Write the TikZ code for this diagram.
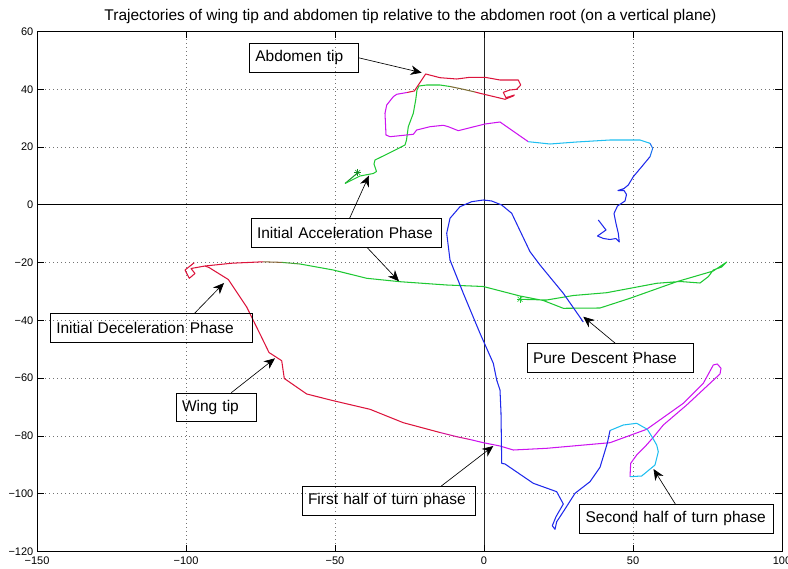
\documentclass[tikz,border=0pt]{standalone}
\usepackage{fontspec}
\setmainfont{Liberation Sans}
\usetikzlibrary{arrows.meta}

\definecolor{wred}{RGB}{220,20,60}
\definecolor{wgreen}{RGB}{30,200,50}
\definecolor{wmag}{RGB}{205,20,240}
\definecolor{wcyan}{RGB}{30,190,240}
\definecolor{wblue}{RGB}{30,40,235}

\tikzset{
  trj/.style={line width=1.05pt, line join=round},
  grd/.style={black!55, line width=0.6pt, dash pattern=on 0.8pt off 3.2pt},
  axl/.style={black, line width=0.8pt},
  tkl/.style={font=\fontsize{11}{13}\selectfont, inner sep=0pt},
  lbl/.style={draw, line width=0.6pt, anchor=north west, inner xsep=6pt, inner ysep=0pt,
    minimum height=28.5pt, align=left, font=\fontsize{15.5}{18}\selectfont},
  arr/.style={line width=0.65pt, -{Stealth[length=11pt, width=9.5pt, inset=3.5pt]}}
}

\begin{document}
\begin{tikzpicture}[x=1pt, y=-1pt]
  \useasboundingbox (0,0) rectangle (788,569);
  \node[anchor=base, font=\fontsize{15.5}{18}\selectfont] (title) at (410.5,21)
    {Trajectories of wing tip and abdomen tip relative to the abdomen root (on a vertical plane)};

  % grid
  \foreach \v in {-100,-50,50} {
    \pgfmathsetmacro{\px}{484+2.98*\v}
    \draw[grd] (\px,31.5) -- (\px,551.5);
  }
  \foreach \v in {40,20,-20,-40,-60,-80,-100} {
    \pgfmathsetmacro{\py}{204.8-2.8889*\v}
    \draw[grd] (37,\py) -- (782,\py);
  }
  \draw[black!85, line width=0.7pt] (484,31.5) -- (484,551.5);
  \draw[axl] (37,204.8) -- (782,204.8);

  % axes, ticks, tick labels
  \draw[axl] (37,31.5) rectangle (782,551.5);
  \foreach \v/\t in {-150/−150,-100/−100,-50/−50,0/0,50/50,100/100} {
    \pgfmathsetmacro{\px}{484+2.98*\v}
    \draw[axl] (\px,551.5) -- ++(0,-7);
    \draw[axl] (\px,31.5) -- ++(0,7);
    \node[tkl, anchor=base] (xl\v) at (\px,565) {\t};
  }
  \foreach \v/\t in {60/60,40/40,20/20,0/0,-20/−20,-40/−40,-60/−60,-80/−80,-100/−100,-120/−120} {
    \pgfmathsetmacro{\py}{204.8-2.8889*\v}
    \draw[axl] (37,\py) -- ++(7,0);
    \draw[axl] (782,\py) -- ++(-7,0);
    \node[tkl, anchor=east] (yl\v) at (33.5,\py) {\t};
  }

  % wing tip
  \draw[trj, wred] (194.3,262.7) -- (185,270) -- (189.3,278.3) -- (195,273.5) -- (191,268.5) -- (205,266) -- (232,263.2) -- (263,261.8);
  \draw[trj, wred!55!wgreen] (263,261.8) -- (282,262.4);
  \draw[trj, wred!20!wgreen] (282,262.4) -- (300,264);
  \draw[trj, wgreen] (300,264) -- (333.3,270) -- (366.7,278.3) -- (400,281.7) -- (446.7,285) -- (483.3,286.5) -- (520,296) -- (543.3,300.5) -- (563.3,308.3) -- (600,308) -- (630,298.3) -- (676.7,281.7) -- (713.3,271) -- (726.7,262) -- (721.7,267) -- (713.3,270) -- (708.3,276.7) -- (700,283) -- (680,281.5) -- (656.7,283.3) -- (606.7,292.7) -- (573.3,295.5) -- (546.7,300) -- (520,299.3);
  \draw[trj, wred] (205,266) -- (209,267.5) -- (228.3,279.5) -- (246.7,307) -- (260,334) -- (269,352.5) -- (281.7,360.7) -- (284.3,378.5) -- (306.7,394) -- (333.3,400.7) -- (370,409.3) -- (403.3,422.7) -- (440,432.5);
  \draw[trj, wred!50!wmag] (440,432.5) -- (456.7,436.7) -- (470,439.5);
  \draw[trj, wmag] (470,439.5) -- (483.3,442.7) -- (500,446) -- (513.3,450) -- (546.7,448.3) -- (610,442.7) -- (646.7,429.3) -- (683.3,403.3) -- (703.3,383.3) -- (713.3,365) -- (717.3,364) -- (721,368.3) -- (720,374) -- (710,383.3) -- (686.7,405) -- (663.3,425) -- (653.3,437.3) -- (645,446.7) -- (636.7,455) -- (630.7,463.3) -- (630,476.7);
  \draw[trj, wcyan] (630,476.7) -- (641.7,476) -- (655,465) -- (658.3,451.7) -- (656.7,445) -- (652.3,437.3) -- (647.3,429.3) -- (636.7,423.3) -- (623.3,425) -- (610,430.5);
  \draw[trj, wblue] (610,430.5) -- (607.3,443.3) -- (600,467.3) -- (590,481.7) -- (575,493.3) -- (563.3,511.7) -- (556.7,521.7) -- (555,529.3) -- (552.3,525.7) -- (556,516.7) -- (563.3,504) -- (556.7,491.7) -- (533.3,483.3) -- (505,464) -- (501.7,463.3) -- (501,413) -- (500,390) -- (496.7,380) -- (493.3,363.3) -- (480,333.3) -- (463.3,293.3) -- (450,260) -- (446.7,233.3) -- (450,218.3) -- (460,206.7) -- (471.7,201.7) -- (483.3,200) -- (491.7,201) -- (501.7,205) -- (511.7,213.3) -- (530,251.7) -- (540,265) -- (563.3,293.3) -- (583.3,322);

  % abdomen tip
  \draw[trj, wgreen!75!black] (345,183.5) -- (357.5,173);
  \draw[trj, wgreen] (345,183.5) -- (360,176) -- (373.3,173.5) -- (376.5,171.5) -- (374,164) -- (375,160) -- (386.7,154.3) -- (396.7,149.3) -- (405,145) -- (406.5,140) -- (408.3,126.7) -- (413.3,113.3) -- (415.7,100) -- (417,90) -- (419,86) -- (426.7,85) -- (440,85) -- (450,86.5);
  \draw[trj, wgreen!50!wred] (450,86.5) -- (463.3,89.3) -- (475,92);
  \draw[trj, wred] (475,92) -- (480,93.3) -- (496.7,97.3) -- (505,99.3) -- (513.3,96) -- (514.3,95) -- (506,97.7) -- (503.3,92.3) -- (510,90) -- (516.7,89.3) -- (520.7,85) -- (518.3,80) -- (500,80) -- (485,77.3) -- (470,77.3) -- (456.7,79) -- (440,77.7) -- (425.7,74) -- (414.3,91) -- (407,92.5);
  \draw[trj, wmag] (407,92.5) -- (396.7,94.3) -- (393.3,96.7) -- (386.7,105) -- (385,113.3) -- (386,135) -- (390,136.7) -- (413.3,134.3) -- (416.7,130) -- (430,126.7) -- (443.3,125.3) -- (448.3,126.7) -- (458.3,130.7) -- (471.7,127.3) -- (485,124) -- (500,122) -- (528.3,141.7);
  \draw[trj, wcyan] (528.3,141.7) -- (550,144) -- (576.7,142) -- (610,140) -- (640,140) -- (650,143.3);
  \draw[trj, wcyan!50!wblue] (650,143.3) -- (652.7,148.3) -- (650,156.7);
  \draw[trj, wblue] (650,156.7) -- (641.7,166.7) -- (633.3,176.7) -- (628.3,185) -- (624,188.5) -- (618,190.5) -- (624,190.5) -- (626.5,194.5) -- (625,201) -- (617.5,206) -- (614,213.5) -- (616,223.5) -- (618.3,233.3) -- (619.3,242) -- (616,238.5) -- (610,239.5) -- (603.5,238.5) -- (597.5,236) -- (606,230) -- (598.3,220);

  % start markers
  \coordinate (s1) at (357.7,172.5);
  \coordinate (s2) at (520,299.3);
  \foreach \a in {0,45,90,135} {
    \draw[wgreen!70!black, line width=0.6pt] (s1) ++(\a:3.5pt) -- ++(\a+180:7pt);
    \draw[wgreen, line width=0.6pt] (s2) ++(\a:3.5pt) -- ++(\a+180:7pt);
  }

  % annotations
  \node[lbl, text width=97.3pt] (abd) at (249,43.3) {Abdomen tip};
  \node[lbl, text width=178pt] (acc) at (250.7,218.3) {Initial Acceleration Phase};
  \node[lbl, text width=189.7pt] (dec) at (50,313.3) {Initial Deceleration Phase};
  \node[lbl, text width=68.6pt] (wng) at (175.7,392.7) {Wing tip};
  \node[lbl, text width=161.3pt] (fst) at (301.7,486) {First half of turn phase};
  \node[lbl, text width=154.6pt] (pds) at (526.7,343.3) {Pure Descent Phase};
  \node[lbl, text width=182pt] (snd) at (579.3,504) {Second half of turn phase};

  \coordinate (abdP) at (421.7,72.7);
  \coordinate (accP) at (369,175.5);
  \coordinate (accQ) at (399,281.3);
  \coordinate (decP) at (224,283);
  \coordinate (wngP) at (275,358.3);
  \coordinate (fstP) at (493.3,446);
  \coordinate (pdsP) at (583.3,316.7);
  \coordinate (sndP) at (653.5,469);

  \draw[arr] (abd.east) -- (abdP);
  \draw[arr] ([xshift=3.6pt]acc.north) -- (accP);
  \draw[arr] ([xshift=21pt]acc.south) -- (accQ);
  \draw[arr] ([xshift=43.4pt]dec.north) -- (decP);
  \draw[arr] ([xshift=15pt]wng.north) -- (wngP);
  \draw[arr] ([xshift=52.7pt]fst.north) -- (fstP);
  \draw[arr] ([xshift=5pt]pds.north) -- (pdsP);
  \draw[arr] ([xshift=-1.3pt]snd.north) -- (sndP);
\end{tikzpicture}
\end{document}
